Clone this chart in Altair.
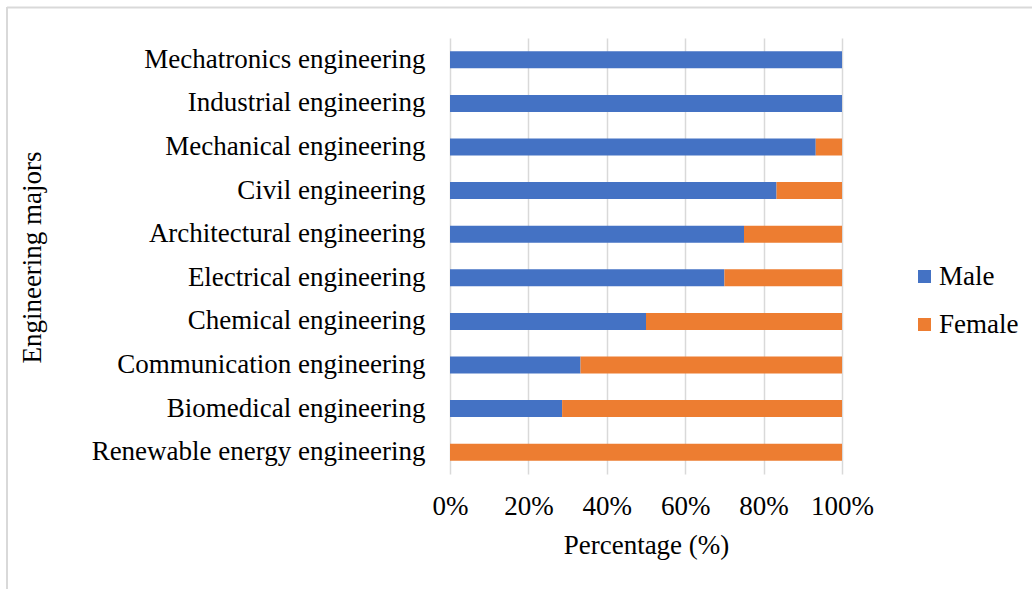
import altair as alt
import pandas as pd

majors = [
    "Mechatronics engineering",
    "Industrial engineering",
    "Mechanical engineering",
    "Civil engineering",
    "Architectural engineering",
    "Electrical engineering",
    "Chemical engineering",
    "Communication engineering",
    "Biomedical engineering",
    "Renewable energy engineering",
]
male_pct = [100, 100, 93.3, 83.3, 75, 70, 50, 33.3, 28.6, 0]
female_pct = [0, 0, 6.7, 16.7, 25, 30, 50, 66.7, 71.4, 100]
genders = ["Male", "Female"]
colors = ["#4472C4", "#ED7D31"]
x_ticks = [0, 20, 40, 60, 80, 100]

rows = []
for m, a, b in zip(majors, male_pct, female_pct):
    rows.append({"major": m, "gender": genders[0], "pct": a, "ord": 0})
    rows.append({"major": m, "gender": genders[1], "pct": b, "ord": 1})
df = pd.DataFrame(rows)

FONT = "Liberation Serif"
FS = 27

bars = alt.Chart(df).mark_bar().encode(
    x=alt.X(
        "pct:Q",
        stack="zero",
        scale=alt.Scale(domain=[0, 100], nice=False),
        axis=alt.Axis(
            values=x_ticks,
            labelExpr="datum.value + '%'",
            labelOverlap=False,
            labelFlush=False,
            title="Percentage (%)",
            grid=True,
            gridColor="#d9d9d9",
            gridWidth=1.5,
            domain=False,
            ticks=False,
            labelPadding=19,
            labelFont=FONT,
            labelFontSize=FS,
            labelColor="#000000",
            titleFont=FONT,
            titleFontSize=FS,
            titleFontWeight="normal",
            titleColor="#000000",
            titleBaseline="alphabetic",
            titleY=79,
        ),
    ),
    y=alt.Y(
        "major:N",
        sort=majors,
        scale=alt.Scale(paddingInner=0.61, paddingOuter=0.305),
        axis=alt.Axis(
            title="Engineering majors",
            grid=False,
            domain=False,
            ticks=False,
            labelPadding=25,
            labelLimit=0,
            labelFont=FONT,
            labelFontSize=FS,
            labelColor="#000000",
            titleFont=FONT,
            titleFontSize=FS,
            titleFontWeight="normal",
            titleColor="#000000",
            titleAngle=-90,
            titleX=-404,
            titleY=219,
            titleAlign="center",
            titleBaseline="bottom",
        ),
    ),
    color=alt.Color(
        "gender:N",
        scale=alt.Scale(domain=genders, range=colors),
        legend=alt.Legend(
            title=None,
            orient="none",
            legendX=461,
            legendY=225,
            symbolType="square",
            symbolSize=169,
            symbolStrokeWidth=0,
            labelFont=FONT,
            labelFontSize=FS,
            labelColor="#000000",
            labelOffset=1,
            rowPadding=20,
            padding=0,
        ),
    ),
    order=alt.Order("ord:Q"),
)

one = pd.DataFrame({"k": [0]})
top_line = alt.Chart(one).mark_rule(color="#d9d9d9", strokeWidth=2).encode(
    x=alt.value(-443), x2=alt.value(700), y=alt.value(-30.5)
)
left_line = alt.Chart(one).mark_rule(color="#d9d9d9", strokeWidth=2).encode(
    x=alt.value(-443), y=alt.value(-31), y2=alt.value(700)
)

chart = alt.layer(bars, top_line, left_line).properties(
    width=392,
    height=436,
    autosize=alt.AutoSizeParams(type="none"),
    padding={"left": 450, "top": 38, "right": 190, "bottom": 115},
    background="#ffffff",
).configure_view(stroke=None)

chart.save("out.html", embed_options={"renderer": "svg", "actions": False})
